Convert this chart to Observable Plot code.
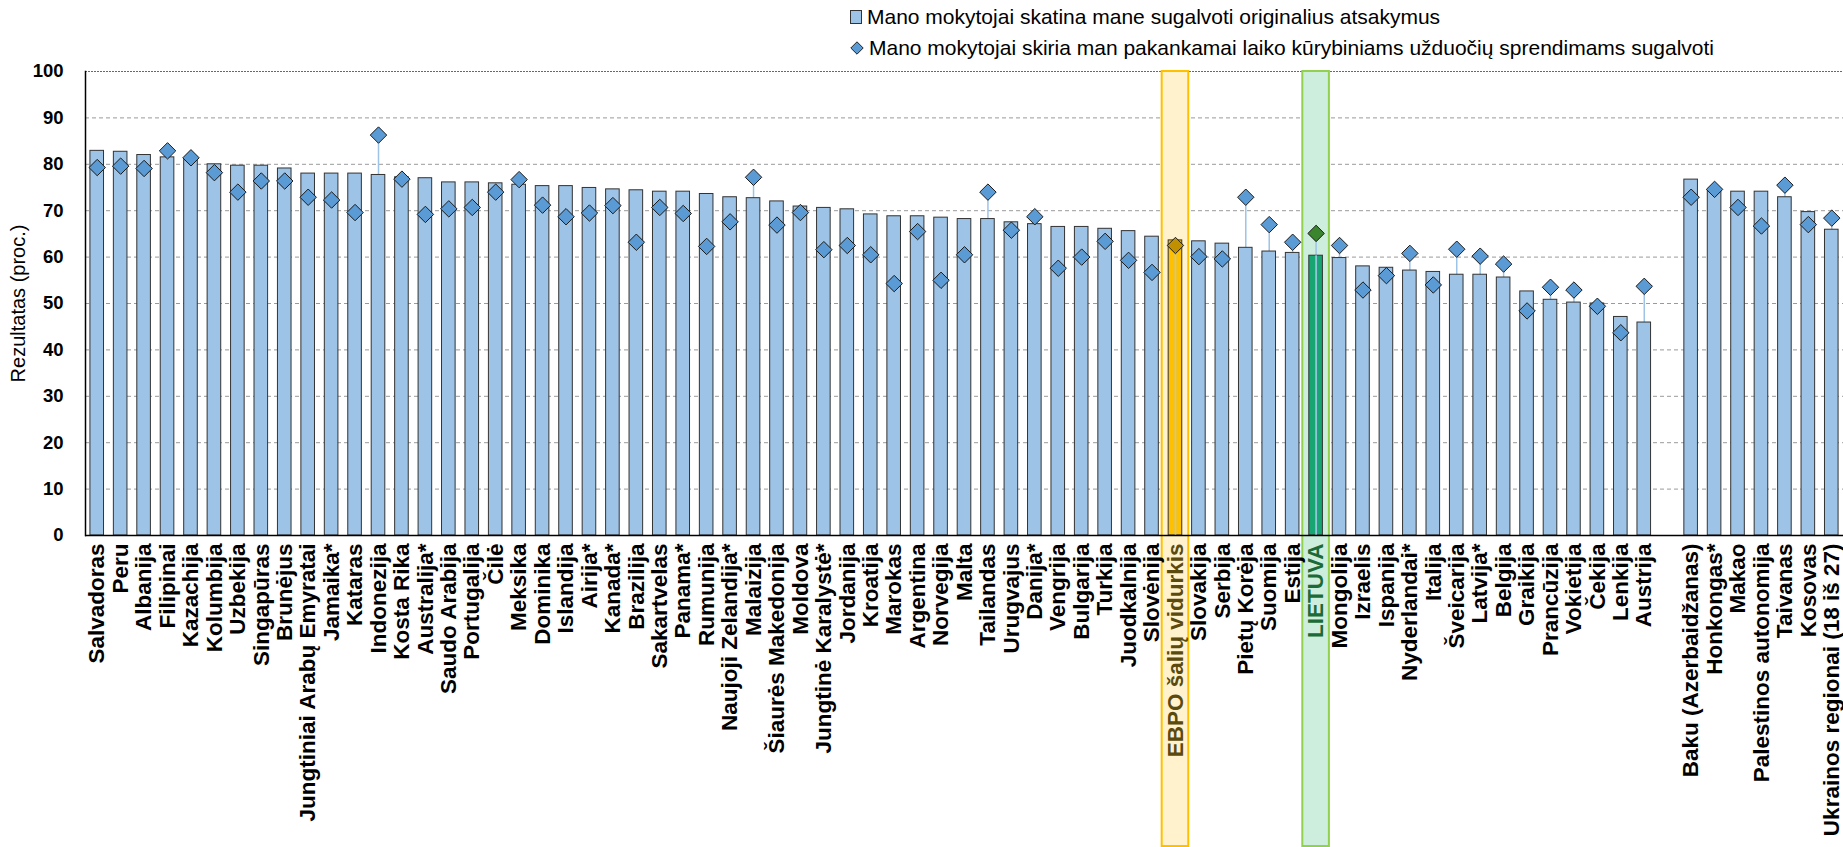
<!DOCTYPE html>
<html><head><meta charset="utf-8">
<script src="https://cdn.jsdelivr.net/npm/d3@7"></script>
<script src="https://cdn.jsdelivr.net/npm/@observablehq/plot@0.6"></script>
<style>
body{margin:0;background:#fff;font-family:"Liberation Sans",Arial,sans-serif;color:#000;}
#legend{height:64px;box-sizing:border-box;padding-top:2px;padding-left:850px;font-size:21px;}
.row{height:30.5px;display:flex;align-items:center;white-space:nowrap;}
.row svg{margin-right:5px;flex:none}
</style></head><body>
<div id="legend"></div>
<div id="chart"></div>
<script>
// ---- data ----
const mainCountries = ["Salvadoras","Peru","Albanija","Filipinai","Kazachija","Kolumbija","Uzbekija","Singapūras","Brunėjus","Jungtiniai Arabų Emyratai","Jamaika*","Kataras","Indonezija","Kosta Rika","Australija*","Saudo Arabija","Portugalija","Čilė","Meksika","Dominika","Islandija","Airija*","Kanada*","Brazilija","Sakartvelas","Panama*","Rumunija","Naujoji Zelandija*","Malaizija","Šiaurės Makedonija","Moldova","Jungtinė Karalystė*","Jordanija","Kroatija","Marokas","Argentina","Norvegija","Malta","Tailandas","Urugvajus","Danija*","Vengrija","Bulgarija","Turkija","Juodkalnija","Slovėnija","EBPO šalių vidurkis","Slovakija","Serbija","Pietų Korėja","Suomija","Estija","LIETUVA","Mongolija","Izraelis","Ispanija","Nyderlandai*","Italija","Šveicarija","Latvija*","Belgija","Graikija","Prancūzija","Vokietija","Čekija","Lenkija","Austrija"];
const otherCountries = ["Baku (Azerbaidžanas)","Honkongas*","Makao","Palestinos autonomija","Taivanas","Kosovas","Ukrainos regionai (18 iš 27)"];
// "Mano mokytojai skatina mane sugalvoti originalius atsakymus" (bars)
const encourageValues = [82.9,82.7,82.0,81.5,80.9,80.0,79.7,79.7,79.1,78.0,78.0,78.0,77.7,77.2,77.0,76.1,76.1,75.9,75.6,75.3,75.3,74.9,74.6,74.4,74.1,74.1,73.6,72.9,72.7,72.0,70.9,70.6,70.3,69.2,68.8,68.8,68.5,68.2,68.2,67.5,67.1,66.5,66.5,66.1,65.6,64.4,63.6,63.4,62.9,62.0,61.2,60.9,60.3,59.8,58.0,57.7,57.1,56.8,56.2,56.2,55.6,52.6,50.8,50.2,50.0,47.1,45.9,
  76.7,74.3,74.1,74.1,72.9,69.7,65.9];
// "Mano mokytojai skiria man pakankamai laiko ..." (diamonds)
const timeValues = [79.3,79.6,79.1,82.9,81.4,78.2,74.0,76.4,76.4,72.9,72.3,69.6,86.3,76.8,69.2,70.4,70.7,74.0,76.7,71.2,68.7,69.5,71.1,63.2,70.7,69.4,62.3,67.6,77.2,66.9,69.6,61.6,62.5,60.5,54.3,65.5,55.0,60.5,74.0,65.8,68.7,57.6,60.0,63.4,59.3,56.7,62.5,60.1,59.6,72.9,67.0,63.2,65.1,62.5,52.9,56.0,60.8,54.0,61.7,60.2,58.5,48.4,53.5,52.9,49.4,43.7,53.7,
  72.9,74.6,70.7,66.7,75.5,67.0,68.4];
const yTicks = [0,10,20,30,40,50,60,70,80,90,100];
const seriesLabels = ["Mano mokytojai skatina mane sugalvoti originalius atsakymus","Mano mokytojai skiria man pakankamai laiko kūrybiniams užduočių sprendimams sugalvoti"];
const yTitle = "Rezultatas (proc.)";
const OECD = "EBPO šalių vidurkis", LT = "LIETUVA";

// ---- styles ----
const C = {
  bar: {normal:"#9DC3E6", oecd:"#FFC000", lt:"#17A673"},
  dia: {normal:"#5B9BD5", oecd:"#C09000", lt:"#3B852E"},
  boxFill: {oecd:"#FFF2CC", lt:"#CDEEDC"},
  boxStroke: {oecd:"#FFC000", lt:"#92D050"},
  label: {oecd:"#5A4A0E", lt:"#1B6A37"}
};
const GAP = "\u2007";
const domain = [...mainCountries, GAP, ...otherCountries];
const names = [...mainCountries, ...otherCountries];
const rows = names.map((n,i)=>({name:n, bar:encourageValues[i], dia:timeValues[i]}));
const kind = n => n===OECD ? "oecd" : n===LT ? "lt" : "normal";
const hiRows = rows.filter(d => kind(d.name) !== "normal");

// legend
document.getElementById("legend").innerHTML =
 `<div class="row"><svg width="12" height="14"><rect x="0.5" y="0.5" width="11" height="13" fill="${C.bar.normal}" stroke="#333"/></svg><span>${seriesLabels[0]}</span></div>`+
 `<div class="row"><svg width="14" height="14"><path d="M7 0.8L13.2 7L7 13.2L0.8 7Z" fill="${C.dia.normal}" stroke="#222"/></svg><span>${seriesLabels[1]}</span></div>`;

const W = 1843, H = 783, MT = 7, MB = 312, ML = 85, MR = 0;
const axisFont = {fontSize:22.5, fontWeight:"bold", tickSize:0, tickPadding:8, tickRotate:-90, label:null};

const chart = Plot.plot({
  width:W, height:H, marginTop:MT, marginBottom:MB, marginLeft:ML, marginRight:MR,
  style:{fontFamily:"'Liberation Sans', Arial, sans-serif", color:"#000", background:"transparent", overflow:"visible"},
  x:{domain, paddingInner:0.42, paddingOuter:0.21},
  y:{domain:[0,100]},
  color:{type:"identity"},
  marks:[
    Plot.ruleY(yTicks.filter(t=>t>0 && t<100), {stroke:"#9a9a9a", strokeDasharray:"4,3", strokeWidth:1}),
    Plot.ruleY([100], {stroke:"#5f6b78", strokeDasharray:"2,1", strokeWidth:1.2}),
    Plot.barY(hiRows, {x:"name", y1:100, y2:0, fill:d=>C.boxFill[kind(d.name)], stroke:d=>C.boxStroke[kind(d.name)], strokeWidth:2, insetLeft:-6.5, insetRight:-6.5, insetBottom:-MB+1}),
    Plot.ruleX(rows, {x:"name", y1:0, y2:d=>Math.max(d.bar,d.dia), stroke:C.bar.normal, strokeWidth:1.5}),
    Plot.barY(rows, {x:"name", y:"bar", fill:d=>C.bar[kind(d.name)], stroke:"#333", strokeWidth:1}),
    Plot.ruleX(hiRows, {x:"name", y1:0, y2:"bar", stroke:"#A9CBEA", strokeWidth:1.5}),
    Plot.dot(rows, {x:"name", y:"dia", symbol:"diamond2", r:7.4, fill:d=>C.dia[kind(d.name)], stroke:"#1a1a1a", strokeWidth:1}),
    Plot.ruleY([0], {stroke:"#000", strokeWidth:1.5}),
    Plot.frame({anchor:"left", stroke:"#000", strokeWidth:1.5}),
    Plot.axisY({ticks:yTicks, tickSize:0, tickPadding:22, fontSize:18.5, fontWeight:"bold", label:null}),
    Plot.text([yTitle], {frameAnchor:"left", dx:-67, rotate:-90, textAnchor:"middle", fontSize:20, fill:"#000"}),
    Plot.axisX({...axisFont, tickFormat:d => (d===GAP||d===OECD||d===LT) ? "" : d}),
    Plot.axisX([OECD], {...axisFont, fill:C.label.oecd}),
    Plot.axisX([LT], {...axisFont, fill:C.label.lt})
  ]
});
document.getElementById("chart").appendChild(chart);
</script>
</body></html>
